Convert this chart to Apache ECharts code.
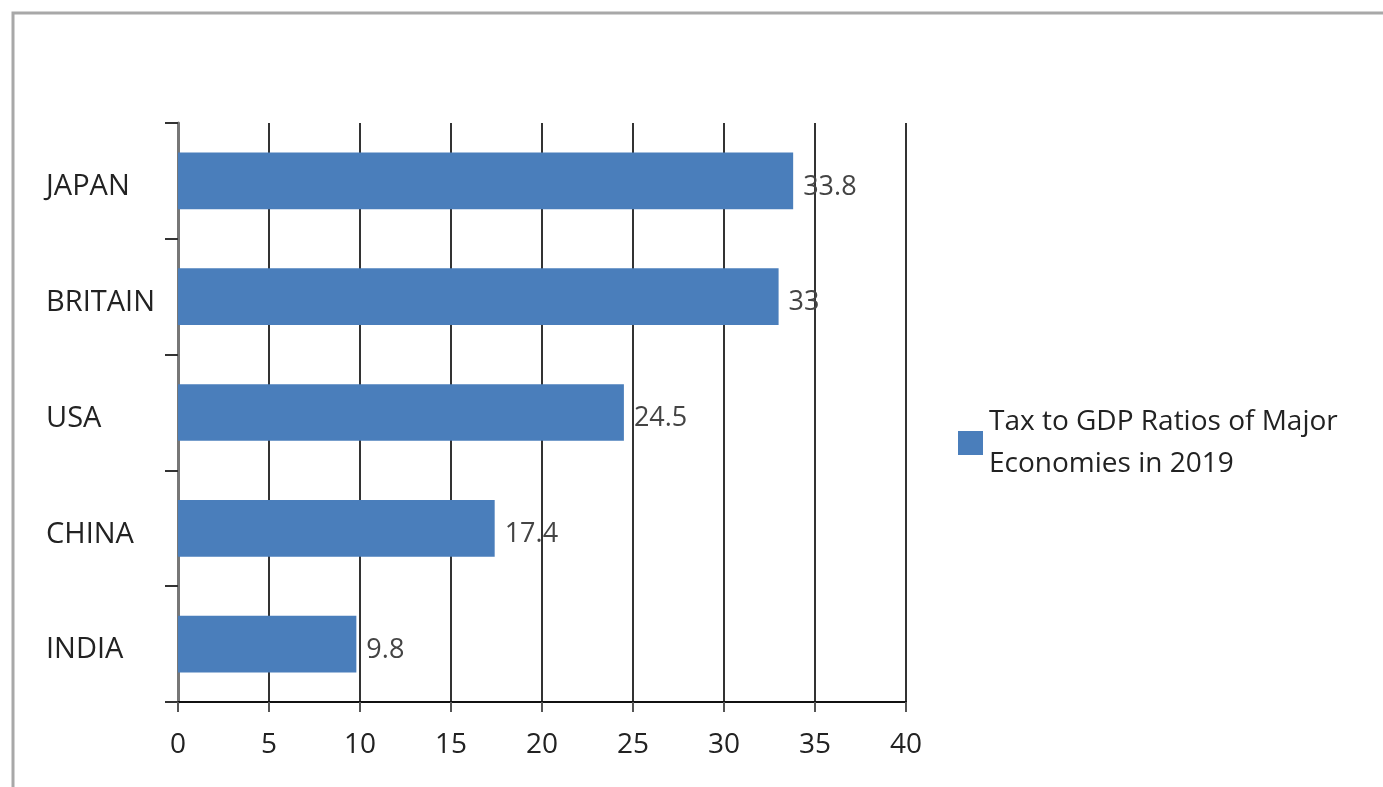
<!DOCTYPE html>
<html>
<head>
<meta charset="utf-8">
<script src="https://cdn.jsdelivr.net/npm/echarts@6/dist/echarts.min.js"></script>
<style>
html,body{margin:0;padding:0;background:#fff;}
#chart{width:1383px;height:787px;}
</style>
</head>
<body>
<div id="chart"></div>
<script>
const categories = ['JAPAN', 'BRITAIN', 'USA', 'CHINA', 'INDIA'];
const values = [33.8, 33, 24.5, 17.4, 9.8];
const seriesName = 'Tax to GDP Ratios of Major\nEconomies in 2019';
const xTicks = { min: 0, max: 40, interval: 5 };

const chart = echarts.init(document.getElementById('chart'));
const font = '"Open Sans", "DejaVu Sans", sans-serif';
chart.setOption({
  backgroundColor: '#ffffff',
  animation: false,
  graphic: [{
    type: 'rect',
    shape: { x: 13, y: 13, width: 1420, height: 820 },
    style: { fill: 'none', stroke: '#a8a8a8', lineWidth: 3 },
    silent: true
  }],
  grid: { left: 178, right: 477, top: 123, bottom: 85 },
  legend: {
    show: true,
    orient: 'vertical',
    left: 958,
    top: 401,
    padding: 0,
    itemWidth: 25,
    itemHeight: 24,
    itemGap: 0,
    icon: 'rect',
    textStyle: { fontFamily: font, fontSize: 28, color: '#222', lineHeight: 42, padding: [0, 0, 0, 1] },
    data: [seriesName]
  },
  xAxis: {
    type: 'value',
    min: xTicks.min, max: xTicks.max, interval: xTicks.interval,
    axisLine: { show: true, lineStyle: { color: '#111', width: 2 } },
    axisTick: { show: true, length: 10, lineStyle: { color: '#555', width: 2 } },
    axisLabel: { fontFamily: font, fontSize: 28, color: '#222', margin: 29 },
    splitLine: { show: true, lineStyle: { color: '#333', width: 2 } }
  },
  yAxis: {
    type: 'category',
    inverse: true,
    data: categories,
    axisLine: { show: true, lineStyle: { color: '#777', width: 3 } },
    axisTick: { show: true, length: 13, lineStyle: { color: '#333', width: 2 } },
    axisLabel: {
      align: 'left', margin: 132,
      formatter: function (v) { return '{a|' + v + '}'; },
      rich: { a: { fontFamily: font, fontSize: 29, color: '#222', padding: [12, 0, 0, 0] } }
    },
    splitLine: { show: false }
  },
  series: [{
    name: seriesName,
    type: 'bar',
    data: values,
    barWidth: '49%',
    itemStyle: { color: '#4a7ebb' },
    label: {
      show: true, position: 'right', distance: 10, offset: [0, 6],
      fontFamily: font, fontSize: 27, color: '#444'
    }
  }]
});
</script>
</body>
</html>
